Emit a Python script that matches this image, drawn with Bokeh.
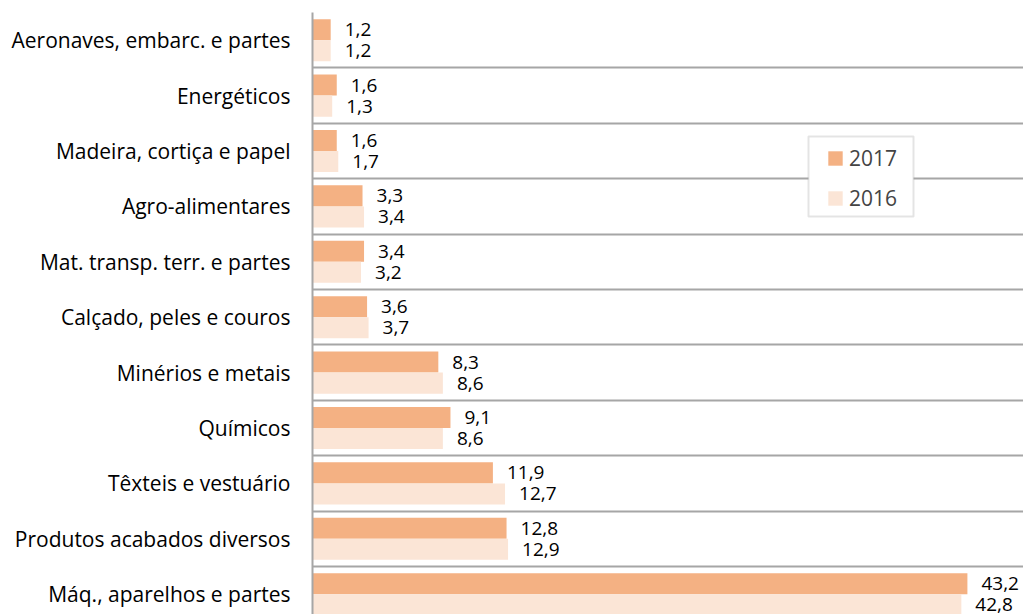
from bokeh.plotting import figure
from bokeh.models import Range1d, FixedTicker, Legend, LegendItem, ColumnDataSource, BoxAnnotation
from bokeh.core.properties import value
from bokeh.embed import file_html
from bokeh.resources import INLINE

categories = ["Aeronaves, embarc. e partes", "Energéticos", "Madeira, cortiça e papel",
              "Agro-alimentares", "Mat. transp. terr. e partes", "Calçado, peles e couros",
              "Minérios e metais", "Químicos", "Têxteis e vestuário",
              "Produtos acabados diversos", "Máq., aparelhos e partes"]
v2017 = [1.2, 1.6, 1.6, 3.3, 3.4, 3.6, 8.3, 9.1, 11.9, 12.8, 43.2]
v2016 = [1.2, 1.3, 1.7, 3.4, 3.2, 3.7, 8.6, 8.6, 12.7, 12.9, 42.8]

FONT = "Open Sans"
C17 = "#F4B183"
C16 = "#FBE5D6"
GRID = "#A6A6A6"

n = len(categories)
centers = [i + 0.5 for i in range(n)]
bh = 0.38
y17 = [c - bh / 2 for c in centers]
y16 = [c + bh / 2 for c in centers]

fmt = lambda v: f"{v:.1f}".replace(".", ",")
src17 = ColumnDataSource(dict(y=y17, v=v2017, lab=[fmt(v) for v in v2017]))
src16 = ColumnDataSource(dict(y=y16, v=v2016, lab=[fmt(v) for v in v2016]))

p = figure(width=1023, height=614, output_backend="svg", toolbar_location=None,
           x_range=Range1d(0, 46.9), y_range=Range1d(10.866, 0),
           min_border_left=312, min_border_top=12, min_border_bottom=0, min_border_right=0)
p.outline_line_color = None
p.background_fill_color = "white"

r17 = p.hbar(y="y", right="v", left=0, height=bh, source=src17, fill_color=C17, line_color=None)
r16 = p.hbar(y="y", right="v", left=0, height=bh, source=src16, fill_color=C16, line_color=None)

for s in (src17, src16):
    p.text(x="v", y="y", text="lab", source=s, x_offset=14, text_align="left",
           text_baseline="middle", text_font=value(FONT), text_font_size="19px", text_color="#000000")

p.xaxis.visible = False
p.xgrid.visible = False

yax = p.yaxis[0]
yax.ticker = FixedTicker(ticks=centers)
yax.major_label_overrides = {c: categories[i] for i, c in enumerate(centers)}
yax.major_tick_line_color = None
yax.minor_tick_line_color = None
yax.axis_line_color = GRID
yax.axis_line_width = 2
yax.major_label_text_font = FONT
yax.major_label_text_font_size = "21px"
yax.major_label_text_color = "#000000"
yax.major_label_standoff = 16

p.ygrid.ticker = FixedTicker(ticks=list(range(n + 1)))
p.ygrid.grid_line_color = GRID
p.ygrid.grid_line_width = 2

box = BoxAnnotation(left=808, right=913, top=136, bottom=216,
                    left_units="canvas", right_units="canvas", top_units="canvas", bottom_units="canvas",
                    fill_color="white", fill_alpha=1, line_color=GRID, line_width=2)
p.add_layout(box)

legend = Legend(items=[LegendItem(label="2017", renderers=[r17]),
                       LegendItem(label="2016", renderers=[r16])],
                location=(514, 402), orientation="vertical",
                padding=0, spacing=12, margin=0,
                glyph_width=18, glyph_height=18, label_height=25,
                label_standoff=5, label_text_font=FONT, label_text_font_size="21px",
                border_line_color=None, background_fill_alpha=0)
p.add_layout(legend, "center")

open("out.html", "w").write(file_html(p, INLINE))
